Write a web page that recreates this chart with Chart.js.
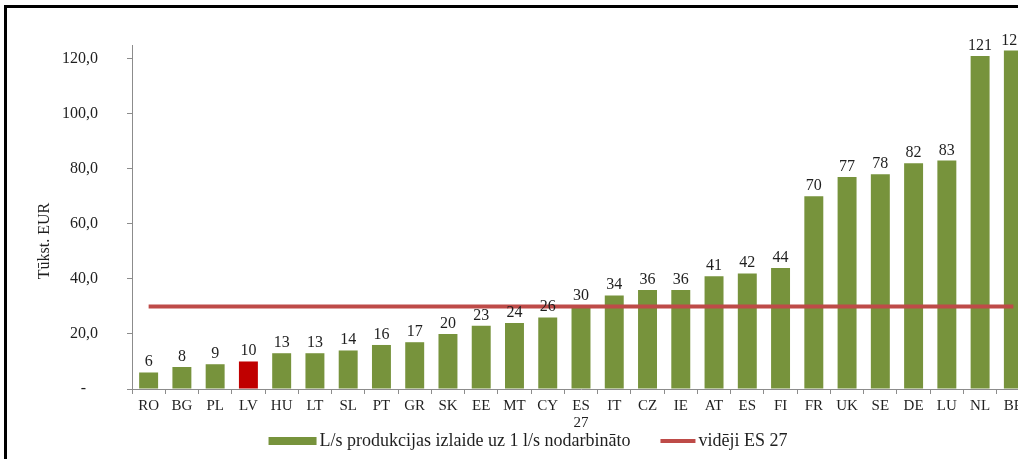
<!DOCTYPE html>
<html>
<head>
<meta charset="utf-8">
<script src="https://cdn.jsdelivr.net/npm/chart.js@4.4.1/dist/chart.umd.min.js"></script>
<style>
  html, body { margin: 0; padding: 0; background: #fff; overflow: hidden; width: 1018px; height: 459px; }
  #frame { position: absolute; left: 4px; top: 5px; width: 1100px; height: 500px; border-left: 3px solid #000; border-top: 3px solid #000; box-sizing: border-box; pointer-events: none; z-index: 2; }
  #wrap { position: absolute; left: 0; top: 0; width: 1050px; height: 459px; }
</style>
</head>
<body>
<div id="wrap"><canvas id="c"></canvas></div>
<div id="frame"></div>
<script>
const categories = ['RO','BG','PL','LV','HU','LT','SL','PT','GR','SK','EE','MT','CY','ES 27','IT','CZ','IE','AT','ES','FI','FR','UK','SE','DE','LU','NL','BE'];
const outputPerWorker = [6, 8, 9, 10, 13, 13, 14, 16, 17, 20, 23, 24, 26, 30, 34, 36, 36, 41, 42, 44, 70, 77, 78, 82, 83, 121, 123];
const euAverage = [30, 30, 30, 30, 30, 30, 30, 30, 30, 30, 30, 30, 30, 30, 30, 30, 30, 30, 30, 30, 30, 30, 30, 30, 30, 30, 30];
const yTickValues = [0, 20, 40, 60, 80, 100, 120];
const seriesNames = ['L/s produkcijas izlaide uz 1 l/s nodarbināto', 'vidēji ES 27'];
const yAxisTitle = 'Tūkst. EUR';
const highlightCategory = 'LV';

const GREEN = '#77933C';
const RED_BAR = '#C00000';
const RED_LINE = '#BE4B48';
const TEXT = '#1f1f1f';
const FONT = "'Liberation Serif', 'Times New Roman', serif";

const valueLabels = {
  id: 'valueLabels',
  afterDatasetsDraw(chart) {
    const meta = chart.getDatasetMeta(1);
    const ctx = chart.ctx;
    ctx.save();
    ctx.font = '16px ' + FONT;
    ctx.fillStyle = TEXT;
    ctx.textAlign = 'center';
    ctx.textBaseline = 'alphabetic';
    meta.data.forEach((el, i) => {
      ctx.fillText(String(Math.round(outputPerWorker[i])), el.x, el.y - 6);
    });
    ctx.restore();
  }
};

const axisTitle = {
  id: 'axisTitle',
  afterDraw(chart) {
    const ctx = chart.ctx;
    const area = chart.chartArea;
    ctx.save();
    ctx.font = '16px ' + FONT;
    ctx.fillStyle = TEXT;
    ctx.textAlign = 'center';
    ctx.textBaseline = 'middle';
    ctx.translate(45, area.top + (area.bottom - area.top) * 0.57);
    ctx.rotate(-Math.PI / 2);
    ctx.fillText(chart.options.scales.y.title.text, 0, 0);
    ctx.restore();
  }
};

const customLegend = {
  id: 'customLegend',
  afterDraw(chart) {
    const ctx = chart.ctx;
    ctx.save();
    ctx.font = '18px ' + FONT;
    ctx.textBaseline = 'middle';
    ctx.textAlign = 'left';
    const y = 441;
    const boxW = 48, lineW = 35, gapText = 3, gapItems = 30;
    const w1 = ctx.measureText(seriesNames[0]).width;
    const w2 = ctx.measureText(seriesNames[1]).width;
    const total = boxW + gapText + w1 + gapItems + lineW + gapText + w2;
    let x = 528 - total / 2;
    ctx.fillStyle = GREEN;
    ctx.fillRect(x, y - 4, boxW, 8);
    x += boxW + gapText;
    ctx.fillStyle = TEXT;
    ctx.fillText(seriesNames[0], x, y);
    x += w1 + gapItems;
    ctx.strokeStyle = RED_LINE;
    ctx.lineWidth = 4;
    ctx.beginPath();
    ctx.moveTo(x, y);
    ctx.lineTo(x + lineW, y);
    ctx.stroke();
    x += lineW + gapText;
    ctx.fillText(seriesNames[1], x, y);
    ctx.restore();
  }
};

new Chart(document.getElementById('c'), {
  data: {
    labels: categories.map(c => c.includes(' ') ? c.split(' ') : c),
    datasets: [
      {
        type: 'line',
        label: seriesNames[1],
        data: euAverage,
        borderColor: RED_LINE,
        borderWidth: 4,
        pointRadius: 0,
        fill: false,
        order: 0
      },
      {
        type: 'bar',
        label: seriesNames[0],
        data: outputPerWorker,
        backgroundColor: categories.map(c => c === highlightCategory ? RED_BAR : GREEN),
        categoryPercentage: 1.0,
        barPercentage: 0.57,
        order: 1
      }
    ]
  },
  options: {
    responsive: true,
    maintainAspectRatio: false,
    animation: false,
    layout: { padding: { left: 0, top: 45, right: 20, bottom: 0 } },
    plugins: {
      legend: { display: false },
      tooltip: { enabled: false }
    },
    scales: {
      x: {
        offset: true,
        afterFit(scale) { scale.height = 70; },
        grid: { display: true, offset: true, drawOnChartArea: false, drawTicks: true, tickLength: 5, color: '#8c8c8c' },
        border: { display: true, color: '#8c8c8c', width: 1 },
        ticks: { color: TEXT, font: { family: FONT, size: 15, lineHeight: 1.1 }, padding: 4, maxRotation: 0, autoSkip: false }
      },
      y: {
        min: 0,
        max: 125,
        afterFit(scale) { scale.width = 132; },
        afterBuildTicks(scale) { scale.ticks = yTickValues.map(v => ({ value: v })); },
        grid: { display: true, drawOnChartArea: false, drawTicks: true, tickLength: 5, color: '#8c8c8c' },
        border: { display: true, color: '#8c8c8c', width: 1 },
        ticks: {
          color: TEXT,
          font: { family: FONT, size: 16 },
          padding: 29,
          callback: v => v === 0 ? '-   ' : v.toFixed(1).replace('.', ',')
        },
        title: {
          display: false,
          text: yAxisTitle,
          color: TEXT,
          font: { family: FONT, size: 16 }
        }
      }
    }
  },
  plugins: [valueLabels, axisTitle, customLegend]
});
</script>
</body>
</html>
